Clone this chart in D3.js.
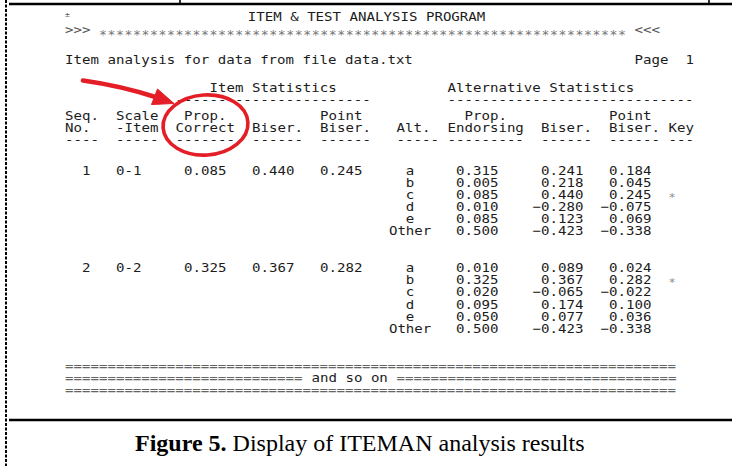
<!DOCTYPE html>
<html>
<head>
<meta charset="utf-8">
<script src="https://cdn.jsdelivr.net/npm/d3@7"></script>
<style>
  html, body { margin: 0; padding: 0; background: #fff; }
  svg { display: block; }
</style>
</head>
<body>
<script>
// ---------- data ----------
const programTitle = "ITEM & TEST ANALYSIS PROGRAM";
const fileName = "data.txt";
const pageNo = 1;
const itemSeq = [1, 2];
const scaleItem = ["0-1", "0-2"];
const propCorrect = [0.085, 0.325];
const itemBiser = [0.440, 0.367];
const itemPointBiser = [0.245, 0.282];
const alternatives = ["a", "b", "c", "d", "e", "Other"];
const altProp = [
  [0.315, 0.005, 0.085, 0.010, 0.085, 0.500],
  [0.010, 0.325, 0.020, 0.095, 0.050, 0.500]
];
const altBiser = [
  [0.241, 0.218, 0.440, -0.280, 0.123, -0.423],
  [0.089, 0.367, -0.065, 0.174, 0.077, -0.423]
];
const altPointBiser = [
  [0.184, 0.045, 0.245, -0.075, 0.069, -0.338],
  [0.024, 0.282, -0.022, 0.100, 0.036, -0.338]
];
const keyAlt = ["c", "b"];
const captionBold = "Figure 5.";
const captionText = " Display of ITEMAN analysis results";

// ---------- layout ----------
const W = 732, H = 466;
const svg = d3.select("body").append("svg").attr("width", W).attr("height", H);
svg.append("rect").attr("width", W).attr("height", H).attr("fill", "#fff");

const col = d3.scaleLinear().domain([0, 1]).range([65, 73.5]);   // character column -> x
const line = d3.scaleLinear().domain([0, 1]).range([174.5, 186.7]); // text line -> baseline y
const SY = 0.9;  // vertical squeeze of the screen font
const fmt = d3.format(".3f");
const mono = "'DejaVu Sans Mono', 'Liberation Mono', monospace";
const ink = "#1c1c1c";

const g = svg.append("g").attr("font-family", mono).attr("font-size", 14.1).attr("fill", ink);

function put(c, l, txt, anchor, extra) {
  const t = g.append("text")
    .attr("x", 0).attr("y", 0)
    .attr("transform", `translate(${col(c)},${line(l)}) scale(1,${SY})`)
    .attr("text-anchor", anchor || "start")
    .attr("xml:space", "preserve")
    .style("white-space", "pre")
    .text(txt);
  if (extra) extra(t);
  return t;
}

// one column of several screen lines as a single text with one tspan per line
function putCol(c, l0, rows, anchor, extra) {
  const step = (line(1) - line(0)) / SY;
  const t = g.append("text")
    .attr("transform", `translate(${col(c)},${line(l0)}) scale(1,${SY})`)
    .attr("text-anchor", anchor || "start")
    .attr("xml:space", "preserve")
    .style("white-space", "pre");
  t.selectAll("tspan").data(rows).join("tspan")
    .attr("x", 0)
    .attr("y", (d, i) => i * step)
    .text(d => d);
  if (extra) extra(t);
  return t;
}

// header lines
put(0, -12.95, "\u00b1", "start", t => t.attr("font-size", 8).attr("fill", "#555"));
put(21.5, -12.6, programTitle);
put(0, -11.5, ">>>", "start", t => t.attr("fill", "#555"));
put(4, -11.25, "*".repeat(62), "start", t => t.attr("fill", "#777").attr("font-size", 13.2).attr("textLength", col(66) - col(4)).attr("dy", 2));
put(67, -11.5, "<<<", "start", t => t.attr("fill", "#555"));
put(0, -9.05, "Item analysis for data from file " + fileName);
put(67, -9.05, "Page");
put(73, -9.05, String(pageNo));

putCol(17, -6.8, ["Item Statistics"]);
putCol(45, -6.8, ["Alternative Statistics"]);
putCol(13, -5.8, ["-".repeat(23)]);
putCol(45, -5.8, ["-".repeat(29)]);

// column headings: [column, top line text, second line text, dash count]
const headings = [
  [0, "Seq.", "No.", 4], [6, "Scale", "-Item", 5], [13, " Prop.", "Correct", 7],
  [22, "", "Biser.", 6], [30, "Point", "Biser.", 6], [39, "", "Alt.", 5],
  [45, "  Prop.", "Endorsing", 9], [56, "", "Biser.", 6], [64, "Point", "Biser.", 6], [71, "", "Key", 3]
];
headings.forEach(([c, h1, h2, n]) => putCol(c, -4.5, [h1, h2]));
headings.forEach(([c, h1, h2, n]) => put(c, -2.5, "-".repeat(n)));

// item blocks
const blockStart = [0, 8];
itemSeq.forEach((seq, i) => {
  const l0 = blockStart[i];
  put(3, l0, String(seq), "end");
  put(6, l0, scaleItem[i]);
  put(19, l0, fmt(propCorrect[i]), "end");
  put(27, l0, fmt(itemBiser[i]), "end");
  put(35, l0, fmt(itemPointBiser[i]), "end");
  putCol(40.6, l0, alternatives, "middle");
  putCol(51, l0, altProp[i].map(fmt), "end");
  putCol(61, l0, altBiser[i].map(fmt), "end");
  putCol(69, l0, altPointBiser[i].map(fmt), "end");
  put(71, l0 + alternatives.indexOf(keyAlt[i]), "*", "start",
      t => t.attr("fill", "#888").attr("font-size", 12).attr("dy", 2));
});

// closing rules
const eqStyle = t => t.attr("fill", "#666");
putCol(0, 16, ["=".repeat(72), "=".repeat(28), "=".repeat(72)], "start", eqStyle);
put(29, 17, "and so on");
put(39, 17, "=".repeat(33), "start", eqStyle);

// ---------- red annotations ----------
const red = "#e41e26";
svg.append("ellipse")
  .attr("cx", 205.5).attr("cy", 125).attr("rx", 42.5).attr("ry", 30)
  .attr("fill", "none").attr("stroke", red).attr("stroke-width", 3.6)
  .attr("transform", "rotate(-4 205.5 125)");
svg.append("path")
  .attr("d", "M83,80.5 Q122,86 157,97.5")
  .attr("fill", "none").attr("stroke", red).attr("stroke-width", 4.6).attr("stroke-linecap", "round");
svg.append("path")
  .attr("d", "M174,103.5 L151.5,104.5 L157.5,89 Z")
  .attr("fill", red).attr("stroke", red).attr("stroke-width", 1).attr("stroke-linejoin", "round");

// ---------- frame ----------
svg.append("line").attr("x1", 6).attr("x2", 6).attr("y1", 0).attr("y2", H)
  .attr("stroke", "#000").attr("stroke-width", 2).attr("stroke-dasharray", "3,1.5");
svg.append("line").attr("x1", 9).attr("x2", W).attr("y1", 4).attr("y2", 4)
  .attr("stroke", "#000").attr("stroke-width", 2.6);
[180, 709].forEach(x => svg.append("line").attr("x1", x).attr("x2", x).attr("y1", 0).attr("y2", 4)
  .attr("stroke", "#000").attr("stroke-width", 1.6));
svg.append("line").attr("x1", 9).attr("x2", W).attr("y1", 420).attr("y2", 420)
  .attr("stroke", "#000").attr("stroke-width", 2.6);

// ---------- caption ----------
const cap = svg.append("text")
  .attr("x", 135).attr("y", 451)
  .attr("font-family", "'Liberation Serif', 'Times New Roman', serif")
  .attr("font-size", 24).attr("fill", "#000");
cap.append("tspan").attr("font-weight", "bold").text(captionBold);
cap.append("tspan").attr("xml:space", "preserve").text(captionText);
</script>
</body>
</html>
